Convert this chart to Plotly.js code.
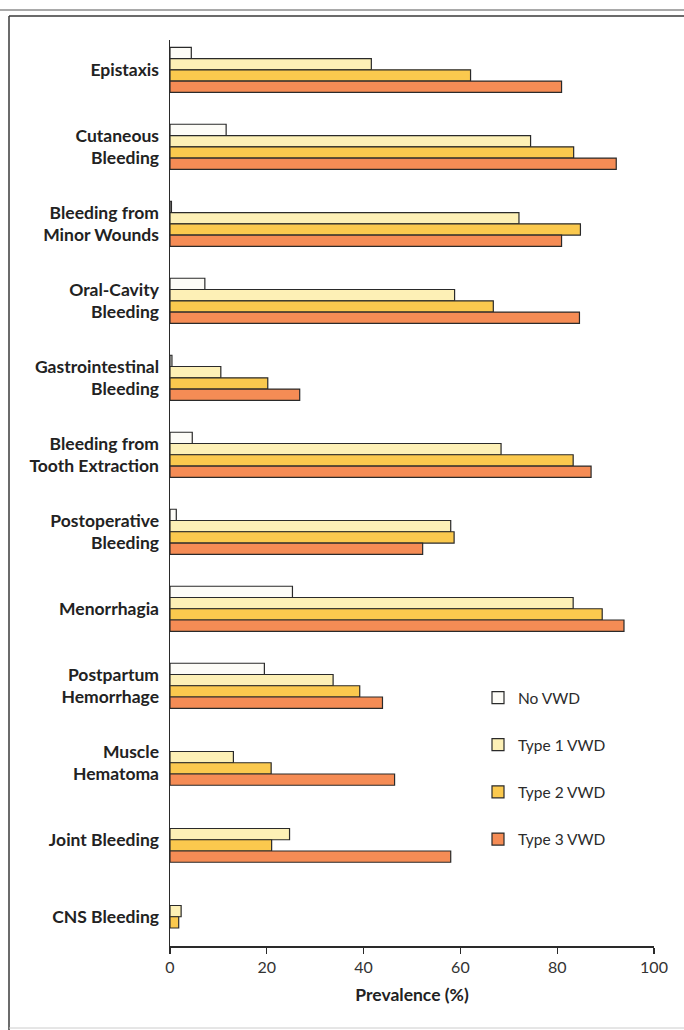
<!DOCTYPE html>
<html>
<head>
<meta charset="utf-8">
<script src="https://cdn.plot.ly/plotly-3.0.1.min.js"></script>
<style>
  html, body { margin: 0; padding: 0; background: #ffffff; }
  #chart { width: 684px; height: 1030px; }
</style>
</head>
<body>
<div id="chart"></div>
<script>
const categories = [
  "Epistaxis",
  "Cutaneous<br>Bleeding",
  "Bleeding from<br>Minor Wounds",
  "Oral-Cavity<br>Bleeding",
  "Gastrointestinal<br>Bleeding",
  "Bleeding from<br>Tooth Extraction",
  "Postoperative<br>Bleeding",
  "Menorrhagia",
  "Postpartum<br>Hemorrhage",
  "Muscle<br>Hematoma",
  "Joint Bleeding",
  "CNS Bleeding"
];
const seriesNames = ["No VWD", "Type 1 VWD", "Type 2 VWD", "Type 3 VWD"];
const noVWD   = [4.4, 11.6, 0.3, 7.2, 0.4, 4.6, 1.3, 25.3, 19.5, null, null, null];
const type1   = [41.6, 74.5, 72.1, 58.8, 10.5, 68.4, 58.0, 83.3, 33.7, 13.1, 24.7, 2.3];
const type2   = [62.1, 83.4, 84.8, 66.8, 20.2, 83.3, 58.7, 89.3, 39.2, 20.9, 21.0, 1.8];
const type3   = [80.9, 92.2, 80.9, 84.6, 26.8, 87.0, 52.2, 93.8, 43.9, 46.4, 58.0, null];
const xTicks = [0, 20, 40, 60, 80, 100];

const seriesValues = [noVWD, type1, type2, type3];
const seriesColors = ["#fdfcf7", "#fdf0b6", "#fbc94e", "#f58c55"];

const traces = seriesValues.map((vals, i) => ({
  type: "bar",
  orientation: "h",
  name: seriesNames[i],
  legendgroup: "g" + i,
  x: vals,
  y: categories,
  marker: { color: seriesColors[i], line: { color: "#2a2a2a", width: 1.2 } },
  hoverinfo: "x+name"
}));

// frame geometry helpers (pixel -> paper)
const L = 170, R = 654, T = 40, B = 946;
const px = v => (v - L) / (R - L);
const py = v => (B - v) / (B - T);

const layout = {
  width: 684,
  height: 1030,
  margin: { l: L, r: 684 - R, t: T, b: 1030 - B },
  paper_bgcolor: "#ffffff",
  plot_bgcolor: "#ffffff",
  barmode: "group",
  bargap: 0.415,
  bargroupgap: 0,
  font: { family: "Lato, 'Open Sans', sans-serif", color: "#222222" },
  xaxis: {
    range: [0, 100],
    tickvals: xTicks,
    ticktext: xTicks.map(String),
    ticks: "outside",
    ticklen: 6,
    tickwidth: 1.2,
    tickcolor: "#2a2a2a",
    showline: true,
    linecolor: "#2a2a2a",
    linewidth: 1.5,
    showgrid: false,
    zeroline: false,
    tickfont: { size: 16, color: "#333333", family: "Lato, sans-serif" },
    title: { text: "Prevalence (%)", font: { size: 17.5, color: "#222222", family: "Lato, sans-serif", weight: "bold" }, standoff: 14 }
  },
  yaxis: {
    type: "category",
    range: [11.38, -0.387],
    showline: true,
    linecolor: "#2a2a2a",
    linewidth: 1.5,
    ticks: "",
    showgrid: false,
    zeroline: false,
    ticklabelstandoff: 6,
    tickfont: { size: 17.5, color: "#222222", family: "Lato, sans-serif", weight: "bold" }
  },
  showlegend: true,
  legend: {
    x: px(478),
    y: py(681),
    xanchor: "left",
    yanchor: "top",
    traceorder: "grouped",
    tracegroupgap: 24,
    bgcolor: "rgba(0,0,0,0)",
    font: { size: 15.5, color: "#2b2b2b", family: "Lato, sans-serif" }
  },
  shapes: [
    { type: "line", xref: "paper", yref: "paper", x0: px(0), x1: px(684), y0: py(10), y1: py(10), line: { color: "#555555", width: 1.2 } },
    { type: "line", xref: "paper", yref: "paper", x0: px(9), x1: px(684), y0: py(16), y1: py(16), line: { color: "#3a3a3a", width: 1.5 } },
    { type: "line", xref: "paper", yref: "paper", x0: px(9), x1: px(9), y0: py(16), y1: py(1030), line: { color: "#3a3a3a", width: 1.5 } },
    { type: "line", xref: "paper", yref: "paper", x0: px(9), x1: px(684), y0: py(1028), y1: py(1028), line: { color: "#cccccc", width: 1 } }
  ]
};

Plotly.newPlot("chart", traces, layout, { staticPlot: true, displayModeBar: false });
</script>
</body>
</html>
